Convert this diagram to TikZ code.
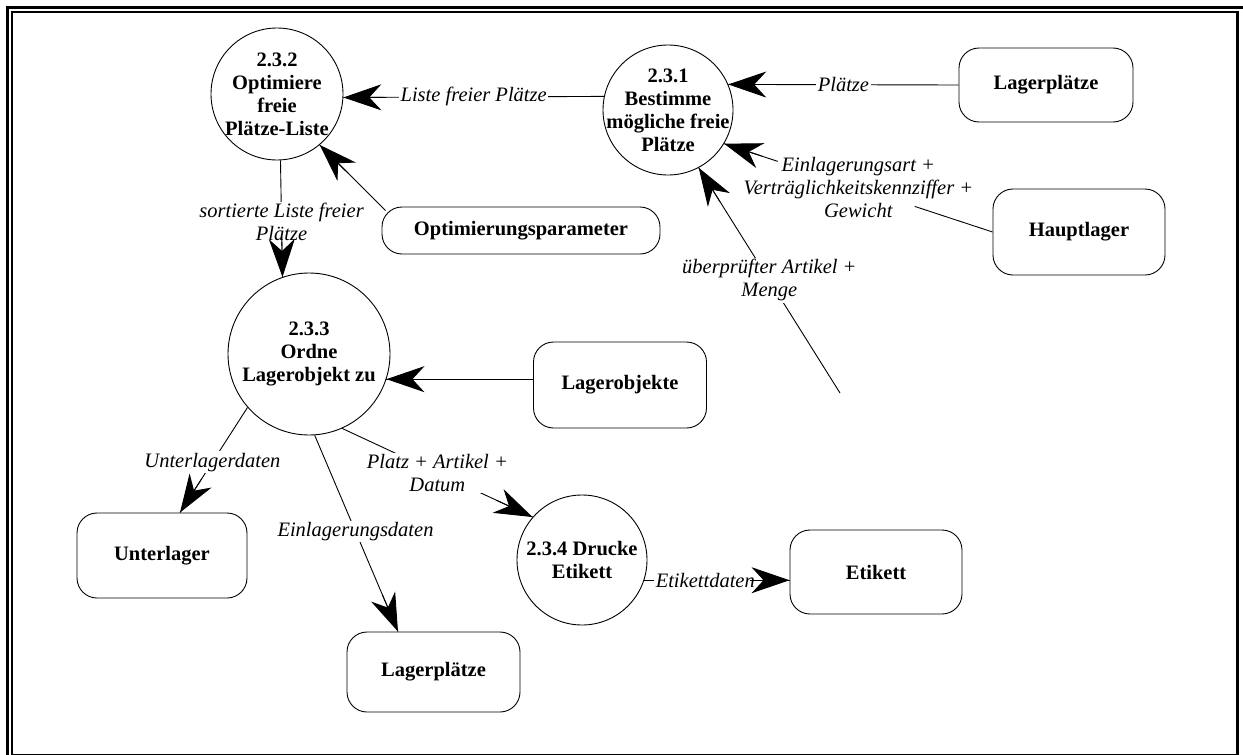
\documentclass[tikz,border=0pt]{standalone}
\usepackage{fontspec}
\setmainfont{Liberation Serif}
\usetikzlibrary{arrows.meta,calc}
\begin{document}
\begin{tikzpicture}[x=1pt,y=-1pt,
  proc/.style={circle,draw,line width=0.9pt,align=center,inner sep=-40pt,
    font=\bfseries\fontsize{20.5}{23}\selectfont},
  store/.style={draw,rounded corners=20pt,line width=0.9pt,align=center,
    font=\bfseries\fontsize{20.5}{23}\selectfont},
  conn/.style={line width=0.9pt},
  tip/.style={line width=0.9pt,-{Stealth[length=38pt,width=26pt,inset=12pt]}},
  lbl/.style={fill=white,inner sep=1.5pt,align=center,
    font=\itshape\fontsize{20.5}{23}\selectfont}]
\useasboundingbox (0,0) rectangle (1243,755);

% frame
\draw[line width=3pt] (7.5,755) -- (7.5,7.5) -- (1243,7.5);
\draw[line width=2pt] (12,755) -- (12,12) -- (1237.5,12);
\draw[line width=3pt] (1237.5,11) -- (1237.5,755);
\draw[line width=1pt] (12,754) -- (1239,754);

% processes
\node[proc,minimum size=132pt] (c232) at (277,94) {2.3.2\\Optimiere\\freie\\Plätze-Liste};
\node[proc,minimum size=130pt] (c231) at (668,110) {2.3.1\\Bestimme\\mögliche freie\\Plätze};
\node[proc,minimum size=162pt] (c233) at (309,354) {2.3.3\\Ordne\\Lagerobjekt zu};
\node[proc,minimum size=130pt] (c234) at (582,560) {2.3.4 Drucke\\Etikett};

% stores
\node[store,minimum width=174pt,minimum height=74pt] (lp1) at (1046,85) {Lagerplätze};
\node[store,minimum width=172pt,minimum height=86pt] (haupt) at (1079,232) {Hauptlager};
\node[store,minimum width=278pt,minimum height=47pt] (opt) at (521,230.5) {Optimierungsparameter};
\node[store,minimum width=173pt,minimum height=86pt] (lobj) at (620,385) {Lagerobjekte};
\node[store,minimum width=170pt,minimum height=85pt] (unter) at (162,555.5) {Unterlager};
\node[store,minimum width=173pt,minimum height=80pt] (lp2) at (433.5,672) {Lagerplätze};
\node[store,minimum width=172pt,minimum height=84pt] (etik) at (876,572) {Etikett};

% connector end points
\coordinate (pruef) at (840,393);
\coordinate (s1) at (c231.168);  \coordinate (t1) at (c232.-3);
\coordinate (s2) at (lp1.west);  \coordinate (t2) at (c231.23);
\coordinate (s3) at (haupt.west); \coordinate (t3) at (c231.-31);
\coordinate (s4) at (pruef);     \coordinate (t4) at (c231.-62);
\coordinate (s5) at ($(opt.north west)+(4,4)$); \coordinate (t5) at (c232.-50);
\coordinate (s6) at (c232.-87);  \coordinate (t6) at (c233.109);
\coordinate (t7) at (c233.-18);  \coordinate (s7) at (t7 -| lobj.west);
\coordinate (s8) at (c233.-139); \coordinate (t8) at ($(unter.north)+(18,0)$);
\coordinate (s9) at (c233.-86);  \coordinate (t9) at ($(lp2.north)+(-35.5,0)$);
\coordinate (s10) at (c233.-66); \coordinate (t10) at (c234.139);
\coordinate (s11) at (c234.-18); \coordinate (t11) at (s11 -| etik.west);

% data flow lines with their labels
\draw[conn] (s1) -- node[lbl] {Liste freier Plätze} (t1);
\draw[conn] (s2) -- node[lbl] {Plätze} (t2);
% this line runs under the three text lines of its label
\draw[conn] (s3) -- ($(s3)!0.29!(t3)$);
\draw[conn] ($(s3)!0.80!(t3)$) -- (t3);
\path (s3) -- node[lbl,fill=none] {Einlagerungsart +\\Verträglichkeitskennziffer +\\Gewicht} (t3);
\draw[conn] (s4) -- node[lbl] {überprüfter Artikel +\\Menge} (t4);
\draw[conn] (s5) -- (t5);
\draw[conn] (s6) -- node[lbl,pos=0.53] {sortierte Liste freier\\Plätze} (t6);
\draw[conn] (s7) -- (t7);
\draw[conn] (s8) -- node[lbl,pos=0.52] {Unterlagerdaten} (t8);
\draw[conn] (s9) -- node[lbl,pos=0.49] {Einlagerungsdaten} (t9);
\draw[conn] (s10) -- node[lbl] {Platz + Artikel +\\Datum} (t10);
\draw[conn] (s11) -- node[lbl,pos=0.42] {Etikettdaten} (t11);

% arrow heads on top of the labels
\foreach \i in {1,...,11}
  \draw[tip] ($(t\i)!40pt!(s\i)$) -- (t\i);
\end{tikzpicture}
\end{document}
